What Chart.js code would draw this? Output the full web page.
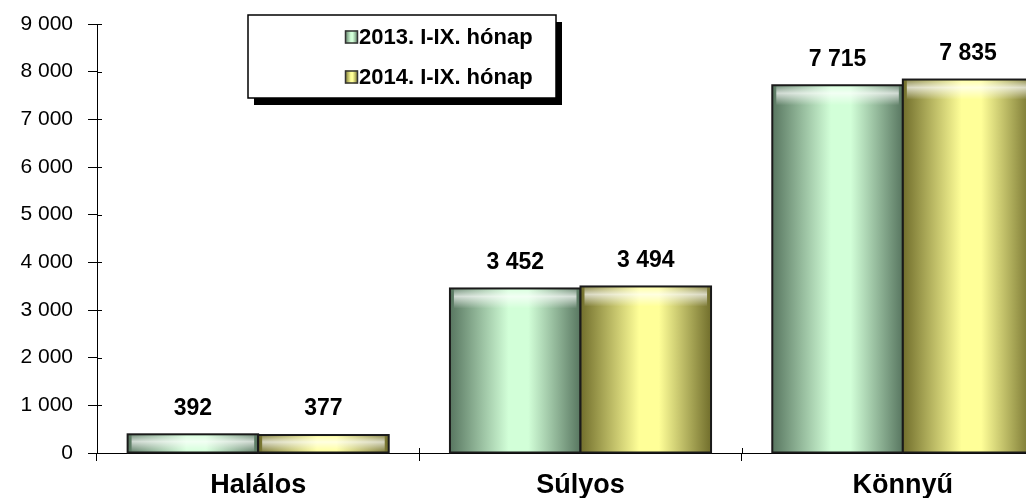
<!DOCTYPE html>
<html>
<head>
<meta charset="utf-8">
<script src="https://cdn.jsdelivr.net/npm/chart.js@4/dist/chart.umd.min.js"></script>
<style>
  html, body { margin: 0; padding: 0; background: #fff; overflow: hidden; }
  #wrap { width: 1064px; height: 498px; }
</style>
</head>
<body>
<div id="wrap"><canvas id="chart"></canvas></div>
<script>
const kategoriak = ['Halálos', 'Súlyos', 'Könnyű'];
const nevek = ['2013. I-IX. hónap', '2014. I-IX. hónap'];
const ertek2013 = [392, 3452, 7715];
const ertek2014 = [377, 3494, 7835];
const yMax = 9000;
const yLepes = 1000;

// szinek: szel, kozep (henger hatas)
const szinek = [
  { edge: '#587660', mid: '#d2ffd8', flat: '#a8d8b0' },
  { edge: '#716e2c', mid: '#ffff98', flat: '#d8d878' }
];

const FONT = "Arial, 'Liberation Sans', sans-serif";

function szamForma(v) {
  return String(v).replace(/\B(?=(\d{3})+(?!\d))/g, ' ');
}

function hengerGrad(ctx, x0, x1, c) {
  const g = ctx.createLinearGradient(x0, 0, x1, 0);
  g.addColorStop(0, c.edge);
  g.addColorStop(0.45, c.mid);
  g.addColorStop(0.6, c.mid);
  g.addColorStop(1, c.edge);
  return g;
}

const rajzPlugin = {
  id: 'rajz',
  afterDatasetsDraw(chart) {
    const ctx = chart.ctx;
    chart.data.datasets.forEach((ds, di) => {
      const meta = chart.getDatasetMeta(di);
      meta.data.forEach((el, i) => {
        const p = el.getProps(['x', 'y', 'base', 'width'], true);
        const x0 = p.x - p.width / 2, x1 = p.x + p.width / 2;
        const top = p.y, bot = p.base;
        ctx.save();
        ctx.fillStyle = hengerGrad(ctx, x0, x1, szinek[di]);
        ctx.fillRect(x0, top, p.width, bot - top);
        // felso fenyes sav
        const h = Math.min(20, bot - top);
        const g2 = ctx.createLinearGradient(0, top, 0, top + h);
        g2.addColorStop(0, 'rgba(255,255,255,0.1)');
        g2.addColorStop(0.4, 'rgba(255,255,255,0.7)');
        g2.addColorStop(1, 'rgba(255,255,255,0)');
        ctx.fillStyle = g2;
        ctx.fillRect(x0 + 4, top, p.width - 8, h);
        ctx.strokeStyle = '#1a1a1a';
        ctx.lineWidth = 2;
        ctx.strokeRect(x0, top, p.width, bot - top);
        ctx.restore();
        // ertek cimke
        ctx.save();
        ctx.font = 'bold 23px ' + FONT;
        ctx.fillStyle = '#000';
        ctx.textAlign = 'center';
        ctx.textBaseline = 'middle';
        ctx.fillText(szamForma(ds.data[i]), p.x, top - 26);
        ctx.restore();
      });
    });
    // belso tick darabok
    const ys = chart.scales.y, xs = chart.scales.x;
    ctx.save();
    ctx.strokeStyle = '#000';
    ctx.lineWidth = 1;
    ys.ticks.forEach((t, i) => {
      const y = Math.round(ys.getPixelForTick(i)) + 0.5;
      ctx.beginPath();
      ctx.moveTo(ys.right, y);
      ctx.lineTo(ys.right + 5, y);
      ctx.stroke();
    });
    for (let i = 1; i < kategoriak.length; i++) {
      const x = Math.round((xs.getPixelForTick(i - 1) + xs.getPixelForTick(i)) / 2) + 0.5;
      ctx.beginPath();
      ctx.moveTo(x, xs.top);
      ctx.lineTo(x, xs.top - 5);
      ctx.stroke();
    }
    ctx.restore();
  },
  afterDraw(chart) {
    const ctx = chart.ctx;
    const bx = 248, by = 15, bw = 308, bh = 83;
    ctx.save();
    ctx.fillStyle = '#000';
    ctx.fillRect(bx + 6, by + 7, bw, bh);
    ctx.fillStyle = '#fff';
    ctx.fillRect(bx, by, bw, bh);
    ctx.strokeStyle = '#000';
    ctx.lineWidth = 1.5;
    ctx.strokeRect(bx, by, bw, bh);
    ctx.font = 'bold 22px ' + FONT;
    ctx.textBaseline = 'middle';
    ctx.textAlign = 'left';
    nevek.forEach((n, i) => {
      const cy = 37 + i * 40;
      const sx = 345, s = 13;
      ctx.fillStyle = hengerGrad(ctx, sx, sx + s, szinek[i]);
      ctx.fillRect(sx, cy - s / 2, s, s);
      ctx.strokeStyle = '#333';
      ctx.lineWidth = 1.5;
      ctx.strokeRect(sx + 0.5, cy - s / 2 + 0.5, s - 1, s - 1);
      ctx.fillStyle = '#000';
      ctx.fillText(n, sx + s + 1, cy + 1);
    });
    ctx.restore();
  }
};

new Chart(document.getElementById('chart'), {
  type: 'bar',
  data: {
    labels: kategoriak,
    datasets: [
      { label: nevek[0], data: ertek2013, backgroundColor: szinek[0].flat, borderWidth: 0 },
      { label: nevek[1], data: ertek2014, backgroundColor: szinek[1].flat, borderWidth: 0 }
    ]
  },
  options: {
    responsive: true,
    maintainAspectRatio: false,
    animation: false,
    layout: { padding: { top: 24, right: 0, bottom: 0, left: 0 } },
    plugins: { legend: { display: false }, tooltip: { enabled: false } },
    datasets: { bar: { categoryPercentage: 0.81, barPercentage: 1 } },
    scales: {
      y: {
        min: 0, max: yMax,
        ticks: {
          stepSize: yLepes, padding: 15, color: '#000',
          font: { family: FONT, size: 21 },
          callback: v => szamForma(v)
        },
        grid: { drawOnChartArea: false, tickLength: 9, color: '#000' },
        border: { color: '#000', width: 1 },
        afterFit(s) { s.width = 97; s.paddingTop = 0; s.paddingBottom = 0; }
      },
      x: {
        ticks: { color: '#000', padding: 8, font: { family: FONT, size: 27, weight: 'bold' } },
        grid: { drawOnChartArea: false, offset: true, tickLength: 8, color: '#000' },
        border: { color: '#000', width: 1 },
        afterFit(s) { s.height = 45; s.paddingLeft = 0; s.paddingRight = 0; }
      }
    }
  },
  plugins: [rajzPlugin]
});
</script>
</body>
</html>
